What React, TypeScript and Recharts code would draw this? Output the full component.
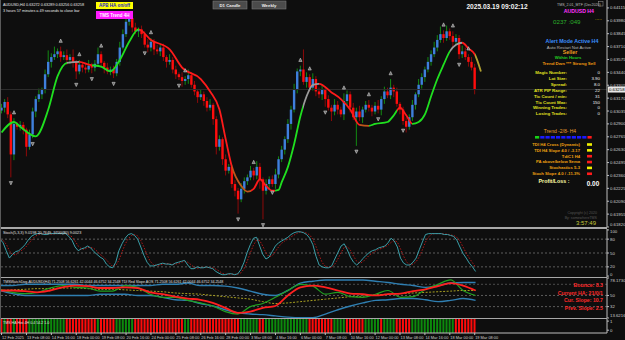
import React from "react";
import { ComposedChart, Bar, Line, Scatter, XAxis, YAxis, ReferenceLine, Cell } from "recharts";

// price values are pips above 0.62000
const FIRST_OPEN = 104;
const CLOSES = [
  107,113,100,58,90,87,89,84,66,79,
  103,116,121,126,142,155,160,163,166,160,
  162,157,160,155,145,152,149,147,151,149,
  153,163,154,149,145,147,143,155,170,184,
  197,201,191,187,189,184,173,170,176,168,
  166,170,160,155,157,147,142,139,135,137,
  141,131,124,118,121,114,107,110,95,66,
  74,53,41,45,27,20,11,22,30,34,
  41,36,45,32,20,27,32,27,37,53,
  63,74,90,105,126,145,147,134,139,128,
  137,124,121,126,116,107,103,110,105,100,
  114,121,107,97,103,97,105,110,107,103,
  109,105,116,124,120,128,124,111,105,93,
  87,97,110,121,131,139,147,155,163,170,
  178,184,180,187,182,176,180,163,166,160,
  155,149,126,
];
const HI_WICK = [
  4,3,5,3,6,2,4,3,2,5, 4,3,6,2,5,12,4,8,3,5, 4,6,3,8,2,5,3,4,6,3,
  4,7,3,2,5,3,4,3,6,5, 4,6,3,5,2,4,3,6,4,3, 5,3,4,2,6,3,4,2,5,3,
  6,3,4,2,5,3,4,6,2,3, 4,2,5,3,2,4,3,6,4,3, 5,3,6,4,2,5,3,4,6,3,
  4,3,5,4,6,3,4,21,5,3, 6,3,4,5,2,4,3,6,4,3, 8,4,3,5,4,6,3,4,5,3,
  4,6,3,5,4,9,3,4,2,3, 4,3,5,2,6,4,3,5,4,6, 5,8,4,6,3,5,4,3,6,4,
  3,5,4,
];
const LO_WICK = [
  3,5,4,24,6,3,4,5,10,3, 4,6,3,5,4,3,6,3,4,5, 3,5,4,6,8,3,5,4,3,6,
  4,3,5,6,3,4,5,3,4,2, 3,4,5,3,6,4,3,5,4,6, 3,5,4,6,3,4,5,3,6,4,
  5,3,4,6,3,5,4,3,6,8, 4,6,5,3,4,6,15,3,5,4, 3,5,4,10,30,4,6,3,5,4,
  3,5,4,6,3,4,5,3,6,4, 3,5,4,6,8,3,10,4,5,3, 6,4,5,3,30,4,6,3,4,5,
  3,4,6,5,3,4,6,3,5,4, 6,3,4,5,3,4,5,3,4,3, 4,3,5,3,4,6,3,5,4,3,
  5,3,5,
];
// moving average: [candle index, pips]
const MA_PTS = [
  [0,81],[4,92],[6,87],[11,77],[15,105],[18,140],[21,154],[25,155],[28,152],[32,150],
  [35,145],[38,157],[41,176],[44,189],[48,178],[54,168],[58,149],[64,137],[67,124],[70,105],
  [72,74],[74,45],[77,25],[79,19],[81,22],[83,32],[85,25],[87,20],[89,21],[90,29],
  [92,45],[94,69],[96,98],[98,119],[100,131],[102,132],[106,123],[109,116],[112,105],[115,89],
  [118,88],[120,90],[124,92],[126,99],[128,107],[130,99],[132,90],[134,92],[136,100],[138,119],
  [140,137],[142,152],[144,166],[146,173],[148,175],[150,169],[152,163],[154,145],
];
// MA state runs: [state, number of candles]  1 up, -1 down, 0 flat, 2 weak, 3 projection
const MA_STATE = [[1,21],[0,4],[-1,4],[1,15],[-1,30],[2,6],[-1,8],[1,9],[0,5],[-1,13],[2,3],[1,9],[-1,5],[1,12],[0,4],[-1,4],[3,2]];
const FRACTAL_UP = [4,19,25,32,48,59,81,96,99,110,118,125,142,145,150];
const FRACTAL_DN = [3,10,24,29,36,46,57,76,84,87,104,114,121,129,147];

const STOCH_K = [
  80,72,55,39,47,53,55,61,68,78, 86,90,92,92,90,90,92,92,92,92, 92,92,86,78,63,55,59,61,65,61,
  53,47,41,37,26,20,18,30,55,70, 82,90,92,88,80,63,45,30,22,22, 24,26,28,26,26,24,28,30,32,34,
  24,16,16,20,18,18,20,18,16,10, 6,3,3,5,5,3,5,14,30,51, 68,82,84,65,47,37,41,53,65,72,
  76,80,84,90,94,96,96,94,90,82, 68,43,24,20,18,18,22,37,51,65, 70,57,41,30,24,30,38,45,51,55,
  57,61,63,65,72,82,76,63,39,28, 24,24,30,39,57,74,90,92,92,92, 92,92,90,90,88,86,78,63,49,39,
  28,20,10,
];
const STOCH_D = [
  78,77,69,55,47,46,52,56,61,69, 77,85,89,91,91,91,91,91,92,92, 92,92,90,85,76,65,59,58,62,62,
  60,54,47,42,35,28,21,23,34,52, 69,81,88,90,87,77,63,46,32,25, 23,24,26,27,27,25,26,27,30,32,
  30,25,19,17,18,19,19,19,18,15, 11,6,4,4,4,4,4,7,16,32, 50,67,78,77,65,50,42,44,53,63,
  71,76,80,85,89,93,95,95,93,89, 80,64,45,29,21,19,19,26,37,51, 62,64,56,43,32,28,31,38,45,50,
  54,58,60,63,67,73,77,74,59,43, 30,25,26,31,42,57,74,85,91,92, 92,92,91,91,89,88,84,76,63,50,
  39,29,19,
];
// TMS panel, one value every 4 candles
const TMS_RSI = [60,55,53,55,62,66,63,62,57,57,66,63,52,47,47,42,38,33,24,20,32,37,47,58,68,65,52,55,48,47,52,58,47,48,60,68,75,58,50];
const TMS_SIG = [58,58,57,55,58,63,66,65,62,62,63,62,55,52,48,45,43,38,30,22,24,30,33,50,63,66,63,58,53,52,50,52,53,57,60,65,70,66,58];
const TMS_UP = [66,66,68,68,68,68,68,66,66,66,66,66,66,68,68,70,66,66,65,62,57,52,50,58,70,73,75,75,75,75,73,71,68,66,63,66,70,71,71];
const TMS_LO = [58,53,50,50,50,50,50,50,52,52,52,50,50,47,43,42,37,33,27,22,20,19,17,15,14,14,20,27,33,38,42,43,45,45,43,40,42,45,42];
const TMS_MID = [58,59,60,61,61,62,62,61,60,60,59,58,57,56,54,53,52,50,48,46,44,40,37,38,40,42,44,46,48,49,51,52,53,54,55,56,57,58,58];
// histogram runs: [1 green / 0 red, candles]
const HIST_RUNS = [[0,1],[1,1],[0,2],[1,1],[0,4],[1,12],[0,10],[1,1],[0,5],[1,6],[0,16],[1,2],[0,16],[1,6],[0,2],[1,14],[0,8],[1,4],[0,6],[1,5],[0,1],[1,4],[0,5],[1,14],[0,7]];

const DATE_LABELS = ["12 Feb 2025","13 Feb 08:00","14 Feb 16:00","18 Feb 00:00","19 Feb 08:00","20 Feb 16:00","24 Feb 00:00","25 Feb 08:00","26 Feb 16:00","28 Feb 00:00","3 Mar 08:00","4 Mar 16:00","6 Mar 00:00","7 Mar 08:00","10 Mar 16:00","12 Mar 00:00","13 Mar 08:00","14 Mar 16:00","18 Mar 00:00","19 Mar 08:00"];
const PRICE_TICKS = [0.64115,0.6398,0.63845,0.6371,0.63575,0.6344,0.63305,0.6317,0.63035,0.629,0.62765,0.6263,0.62495,0.6236,0.62225,0.6209,0.61955,0.6182];
const INFO_LABELS = ["Magic Number:","Lot Size:","Spread:","ATR PIP Range:","Tic Count / min:","Tic Count Max:","Winning Trades:","Losing Trades:"];
const INFO_VALUES = ["0","3.90","8.0","22","31","150","0","0"];
const STATUS_LABELS = ["TDI H4 Cross (Dynamic)","TDI H4 Slope 4.0 / -3.17","TdiC1 H4","PA above/below Sema","Stochastics 5-3","Stoch Slope 4.0 / -11.3%"];
const STATUS_STATE = [0,0,1,1,0,1];
const TREND_BOXES = [1,2,2,2,2,2,2,2,2,2,0];

const SLOTS = 195;
const FONT = "'Liberation Sans', Arial, sans-serif";
const AXIS = "#bdbdbd";
const BG = "#0e0e0e";
const MA_COL: Record<number, string> = { 1: "#1fe01f", 0: "#9a9a9a", [-1]: "#ff1a1a", 2: "#c0561a", 3: "#b0a030" };

const maMap = new Map(MA_PTS.map(([i, v]) => [i, v]));
const histDir: number[] = [];
HIST_RUNS.forEach(([d, n]) => { for (let k = 0; k < n; k++) histDir.push(d); });
const fu = new Set(FRACTAL_UP);
const fd = new Set(FRACTAL_DN);

const rows = Array.from({ length: SLOTS }, (_, i) => {
  const r: any = { i };
  if (i < CLOSES.length) {
    const o = i === 0 ? FIRST_OPEN : CLOSES[i - 1];
    const c = CLOSES[i];
    r.o = o; r.c = c;
    r.h = Math.max(o, c) + HI_WICK[i];
    r.l = Math.min(o, c) - LO_WICK[i];
    r.k = STOCH_K[i]; r.d = STOCH_D[i];
    r.hv = 1; r.hd = histDir[i];
    if (fu.has(i)) r.fu = r.h + 6;
    if (fd.has(i)) r.fd = r.l - 6;
  }
  if (maMap.has(i)) r.ma = maMap.get(i);
  if (i % 4 === 0 && i / 4 < TMS_RSI.length) {
    const k = i / 4;
    r.rsi = TMS_RSI[k]; r.sig = TMS_SIG[k]; r.up = TMS_UP[k]; r.lo = TMS_LO[k]; r.mid = TMS_MID[k];
  }
  return r;
});

const maLast = MA_PTS[MA_PTS.length - 1][0];
const maStops: { off: number; col: string }[] = [];
{
  let s = 0;
  MA_STATE.forEach(([st, n]) => {
    maStops.push({ off: s / maLast, col: MA_COL[st] });
    s += n;
    maStops.push({ off: s / maLast, col: MA_COL[st] });
  });
}

const M = { top: 0, right: 0, bottom: 0, left: 0 };

// y-axis tick that keeps its text inside its own panel
const edgeTick = (h: number, fmt: (v: number) => string) => (p: any) => {
  const { x, y, payload } = p;
  const yy = Math.min(h - 2.2, Math.max(2.4, y));
  return <text x={x} y={yy + 1.5} fontSize={4.3} fill="#cfcfcf" fontFamily={FONT}>{fmt(payload.value)}</text>;
};

function Candle(p: any) {
  const { x, y, width, height, payload } = p;
  if (!payload || payload.c == null) return <g />;
  const { o, h, l, c } = payload;
  const top = Math.min(y, y + height);
  const bot = Math.max(y, y + height);
  const k = h === l ? 0 : (bot - top) / (h - l);
  const py = (v: number) => top + (h - v) * k;
  const cx = x + width / 2;
  const up = c >= o;
  const bTop = py(Math.max(o, c));
  const bBot = py(Math.min(o, c));
  const bw = Math.max(1.6, width * 0.8);
  return (
    <g>
      <line x1={cx} x2={cx} y1={top} y2={bot} stroke={up ? "#138a13" : "#8e0a0a"} strokeWidth={1} />
      <rect x={cx - bw / 2} y={bTop} width={bw} height={Math.max(1, bBot - bTop)} fill={up ? "#3f7fdc" : "#ff0d0d"} />
    </g>
  );
}

function UpMark(p: any) {
  const { cx, cy, payload } = p;
  if (!payload || payload.fu == null || !isFinite(cy)) return <g />;
  return <path d={`M${cx - 1.6},${cy + 1.5} L${cx},${cy - 1.8} L${cx + 1.6},${cy + 1.5} Z`} fill="#6a6a6a" stroke="#e6e6e6" strokeWidth={0.5} />;
}
function DnMark(p: any) {
  const { cx, cy, payload } = p;
  if (!payload || payload.fd == null || !isFinite(cy)) return <g />;
  return <path d={`M${cx - 1.6},${cy - 1.5} L${cx},${cy + 1.8} L${cx + 1.6},${cy - 1.5} Z`} fill="#6a6a6a" stroke="#e6e6e6" strokeWidth={0.5} />;
}

function DateTick(p: any) {
  const { x, y, payload } = p;
  const label = DATE_LABELS[Math.round(payload.value / 8)];
  return <text x={x + 0.5} y={y + 3.8} fontSize={3.9} fill="#d0d0d0" fontFamily={FONT}>{label}</text>;
}

function PriceBox(p: any) {
  const vb = p.viewBox || {};
  const x = (vb.x || 0) + (vb.width || 0);
  const y = vb.y || 0;
  return (
    <g>
      <rect x={x + 1} y={y - 3} width={17} height={6} fill="#e8e8e8" />
      <text x={x + 2} y={y + 1.7} fontSize={4.3} fill="#000" fontFamily={FONT}>0.63258</text>
    </g>
  );
}

function Txt({ x, y, s, c, t, a = "start", b = false }: any) {
  return <text x={x} y={y} fontSize={s} fill={c} textAnchor={a} fontWeight={b ? 700 : 400} fontFamily={FONT}>{t}</text>;
}

function Overlay() {
  return (
    <svg width={625} height={340} style={{ position: "absolute", left: 0, top: 0, pointerEvents: "none" }}>
      <Txt x={3} y={6} s={3.8} c="#e8e8e8" t="AUDUSD,H4  0.63272 0.63289 0.63256 0.63258" />
      <Txt x={3} y={12} s={3.8} c="#e8e8e8" t="3 hours 57 minutes a 49 seconds to close bar" />
      <rect x={96} y={2} width={37} height={7} fill="#ffff00" />
      <Txt x={114.5} y={7.4} s={4.5} c="#1a1acc" t="APB HA on/off" a="middle" b />
      <rect x={96} y={11} width={37} height={8} fill="#ff1aff" />
      <Txt x={114.5} y={16.7} s={4.5} c="#ffffff" t="TMS Trend 4H" a="middle" b />
      <rect x={213} y={1} width={34} height={8} fill="#4b4b4b" stroke="#7a7a7a" strokeWidth={0.6} />
      <Txt x={230} y={6.6} s={4.3} c="#f0f0f0" t="D1 Candle" a="middle" b />
      <rect x={252} y={1} width={34} height={8} fill="#4b4b4b" stroke="#7a7a7a" strokeWidth={0.6} />
      <Txt x={269} y={6.6} s={4.3} c="#f0f0f0" t="Weekly" a="middle" b />
      <Txt x={497} y={8.5} s={6.6} c="#f4f4f4" t="2025.03.19 09:02:12" a="middle" b />
      <Txt x={557} y={5.5} s={3.6} c="#bdbdbd" t="TMS_2.01_MTF (Dec2020)" />
      <rect x={598.5} y={1.5} width={4.5} height={4.5} fill="none" stroke="#9a9a9a" strokeWidth={0.5} />
      <Txt x={594} y={12.5} s={5.2} c="#ff33ff" t="AUDUSD H4" a="end" b />
      <Txt x={553} y={24} s={6.2} c="#2bb02b" t="0237 :049" />
      <Txt x={595} y={19.5} s={5} c="#d8c000" t="....." />
      <Txt x={572} y={43} s={5.3} c="#3a8fff" t="Alert Mode Active H4" a="middle" b />
      <Txt x={569} y={48.5} s={4.3} c="#b8b8b8" t="Auto Restart Not Active" a="middle" />
      <Txt x={570} y={54} s={5.3} c="#f0a020" t="Seller" a="middle" b />
      <Txt x={568} y={59} s={4.3} c="#22cc22" t="Within Hours" a="middle" b />
      <Txt x={569} y={65} s={4.4} c="#f09a10" t="Trend Dwn *** Strong Sell" a="middle" b />
      {INFO_LABELS.map((t, k) => (
        <g key={t}>
          <Txt x={567} y={74.3 + k * 5.85} s={4.4} c="#e0e020" t={t} a="end" b />
          <Txt x={600} y={74.3 + k * 5.85} s={4.4} c="#f0f0f0" t={INFO_VALUES[k]} a="end" />
        </g>
      ))}
      <Txt x={560} y={133} s={5} c="#f0a030" t="Trend -2/8- H4" a="middle" />
      {TREND_BOXES.map((s, k) => (
        <rect key={k} x={535 + k * 5.25} y={136} width={4.2} height={2.6} fill={s === 1 ? "#16d016" : s === 2 ? "#1a1aff" : "#ff1a1a"} />
      ))}
      {STATUS_LABELS.map((t, k) => (
        <g key={t}>
          <Txt x={580} y={145.8 + k * 5.85} s={4.2} c="#f0a010" t={t} a="end" b />
          <rect x={587} y={143.2 + k * 5.85} width={5} height={2.6} fill={STATUS_STATE[k] ? "#ff1a1a" : "#f0f000"} />
        </g>
      ))}
      <Txt x={554} y={183} s={5.3} c="#ffffa8" t="Profit/Loss :" a="middle" b />
      <Txt x={593} y={185.5} s={6.4} c="#ffffff" t="0.00" a="middle" b />
      <Txt x={597} y={214} s={3.6} c="#555555" t="Copyright (c) 2020" a="end" />
      <Txt x={597} y={218.5} s={3.6} c="#555555" t="By: somewhereTMS" a="end" />
      <Txt x={596} y={225} s={6} c="#c8c83a" t="3:57:49" a="end" />
      <Txt x={3} y={233.5} s={3.8} c="#e0e0e0" t="Stoch(5,3,3) 9.0198 20.7649 -9700(80) 9.0023" />
      <Txt x={3} y={282.5} s={3.6} c="#e0e0e0" t="TMSWatchDog-AUDUSD(H4) 71.2508 56.6261 42.0044 46.6752 34.2548  TDI Red Slope AOS 71.2508 56.6261 42.0044 46.6752 34.2548" />
      <Txt x={603} y={287} s={5.2} c="#ff2a2a" t="Bounce: 8.3" a="end" b />
      <Txt x={603} y={294.6} s={5.2} c="#ff2a2a" t="Current HA: 21/0/1" a="end" b />
      <Txt x={603} y={302.2} s={5.2} c="#ff2a2a" t="Cur. Slope: 10.7" a="end" b />
      <Txt x={603} y={309.8} s={5.2} c="#ff2a2a" t="Prev. Slope: 2.5" a="end" b />
      <Txt x={3} y={324} s={3.6} c="#e0e0e0" t="TMS HA Hist 4H 0.4 54.2 1.0" />
    </svg>
  );
}

const Sep = ({ y, h = 1 }: any) => <div style={{ position: "absolute", left: 0, top: y, width: 607, height: h, background: "#a8a8a8" }} />;

const fmtPrice = (v: number) => (0.62 + v / 10000).toFixed(5);
const fmtTms = (v: number) => (Number.isInteger(v) ? String(v) : v.toFixed(4));
const fmtHist = (v: number) => (v > 0.5 ? "1" : "0");

export default function App() {
  return (
    <div style={{ position: "relative", width: 625, height: 340, background: BG, overflow: "hidden", fontFamily: FONT }}>
      <style>{"body{margin:0}svg.recharts-surface{overflow:visible}"}</style>
      <svg width={0} height={0} style={{ position: "absolute" }}>
        <defs>
          <linearGradient id="maGrad" x1="0" y1="0" x2="1" y2="0">
            {maStops.map((s, k) => <stop key={k} offset={s.off} stopColor={s.col} />)}
          </linearGradient>
        </defs>
      </svg>

      <div style={{ position: "absolute", left: 0, top: 0 }}>
        <ComposedChart width={625} height={227} data={rows} margin={M} barCategoryGap={0}>
          <XAxis dataKey="i" hide />
          <YAxis orientation="right" width={18} domain={[-18, 219.8]} allowDataOverflow
            ticks={PRICE_TICKS.map(p => (p - 0.62) * 10000)} interval={0}
            tick={edgeTick(227, fmtPrice)} tickSize={2} tickMargin={1} axisLine={{ stroke: AXIS }} tickLine={{ stroke: AXIS }} />
          <ReferenceLine y={CLOSES[CLOSES.length - 1]} stroke="#2e2e2e" label={<PriceBox />} />
          <Bar dataKey={(d: any) => (d.c == null ? null : [d.l, d.h])} shape={<Candle />} isAnimationActive={false} />
          <Line dataKey="ma" type="monotone" connectNulls stroke="url(#maGrad)" strokeWidth={1.8} dot={false} isAnimationActive={false} />
          <Scatter dataKey="fu" shape={<UpMark />} isAnimationActive={false} />
          <Scatter dataKey="fd" shape={<DnMark />} isAnimationActive={false} />
        </ComposedChart>
      </div>

      <div style={{ position: "absolute", left: 0, top: 229 }}>
        <ComposedChart width={625} height={48} data={rows} margin={M}>
          <XAxis dataKey="i" hide />
          <YAxis orientation="right" width={18} domain={[-2, 102]} ticks={[0, 20, 50, 80, 100]} interval={0}
            tick={edgeTick(48, String)} tickSize={2} tickMargin={1} axisLine={{ stroke: AXIS }} tickLine={{ stroke: AXIS }} />
          <ReferenceLine y={80} stroke="#5c5c5c" strokeDasharray="2 2" />
          <ReferenceLine y={50} stroke="#5c5c5c" strokeDasharray="2 2" />
          <ReferenceLine y={20} stroke="#5c5c5c" strokeDasharray="2 2" />
          <Line dataKey="d" stroke="#b01818" strokeWidth={1} strokeDasharray="1.5 1.5" dot={false} isAnimationActive={false} />
          <Line dataKey="k" stroke="#3a9ea8" strokeWidth={1} dot={false} isAnimationActive={false} />
        </ComposedChart>
      </div>

      <div style={{ position: "absolute", left: 0, top: 278 }}>
        <ComposedChart width={625} height={40} data={rows} margin={M}>
          <XAxis dataKey="i" hide />
          <YAxis orientation="right" width={18} domain={[13.6216, 78.173]} ticks={[13.6216, 32, 50, 78.173]} interval={0}
            tick={edgeTick(40, fmtTms)} tickSize={2} tickMargin={1} axisLine={{ stroke: AXIS }} tickLine={{ stroke: AXIS }} />
          <ReferenceLine y={68} stroke="#4c4c4c" strokeDasharray="2 2" />
          <ReferenceLine y={50} stroke="#5c5c5c" strokeDasharray="2 2" />
          <ReferenceLine y={32} stroke="#5c5c5c" strokeDasharray="2 2" />
          <Line dataKey="up" type="monotone" connectNulls stroke="#2f7fb2" strokeWidth={1.4} dot={false} isAnimationActive={false} />
          <Line dataKey="lo" type="monotone" connectNulls stroke="#2f7fb2" strokeWidth={1.4} dot={false} isAnimationActive={false} />
          <Line dataKey="mid" type="monotone" connectNulls stroke="#a8a020" strokeWidth={1} strokeDasharray="2 1.5" dot={false} isAnimationActive={false} />
          <Line dataKey="rsi" type="monotone" connectNulls stroke="#22a022" strokeWidth={1.2} dot={false} isAnimationActive={false} />
          <Line dataKey="sig" type="monotone" connectNulls stroke="#ff2020" strokeWidth={1.8} dot={false} isAnimationActive={false} />
        </ComposedChart>
      </div>

      <div style={{ position: "absolute", left: 0, top: 319 }}>
        <ComposedChart width={625} height={21} data={rows} margin={M} barCategoryGap="12%">
          <XAxis dataKey="i" height={7} ticks={DATE_LABELS.map((_, k) => k * 8)} interval={0}
            tick={<DateTick />} tickSize={2} tickMargin={0} axisLine={{ stroke: AXIS }} tickLine={{ stroke: AXIS }} />
          <YAxis orientation="right" width={18} domain={[0, 1]} ticks={[0.2, 0.85]} interval={0}
            tick={edgeTick(14, fmtHist)} tickSize={2} tickMargin={1} axisLine={{ stroke: AXIS }} tickLine={{ stroke: AXIS }} />
          <Bar dataKey="hv" isAnimationActive={false}>
            {rows.map((r, k) => <Cell key={k} fill={r.hd ? "#0c8a0c" : "#ff0a0a"} />)}
          </Bar>
        </ComposedChart>
      </div>

      <Sep y={227} h={2} />
      <Sep y={277} />
      <Sep y={318} />
      <div style={{ position: "absolute", left: 0, top: 0, width: 1, height: 333, background: "#5a5a5a" }} />
      <Overlay />
    </div>
  );
}
